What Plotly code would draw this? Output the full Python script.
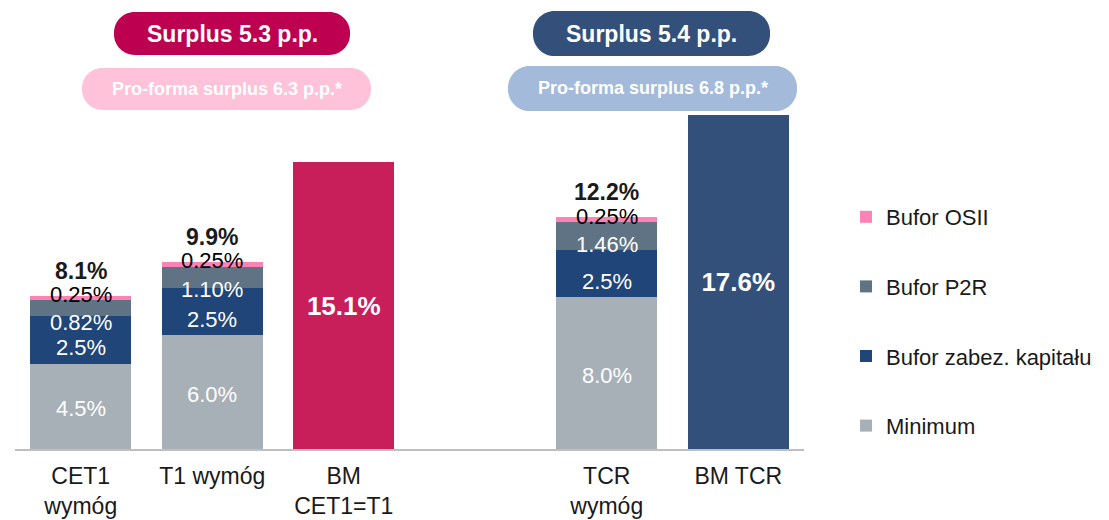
import numpy as np
import plotly.graph_objects as go

# categories on the x axis (" " is the empty gap slot)
categories = ["CET1<br>wymóg", "T1 wymóg", "BM<br>CET1=T1", " ", "TCR<br>wymóg", "BM TCR"]

# requirement bars (stacked)
req_cats = ["CET1<br>wymóg", "T1 wymóg", "TCR<br>wymóg"]
minimum = [4.5, 6.0, 8.0]
capital_buffer = [2.5, 2.5, 2.5]
p2r = [0.82, 1.10, 1.46]
osii = [0.25, 0.25, 0.25]
req_totals = [8.1, 9.9, 12.2]

# bank levels
bm_cats = ["BM<br>CET1=T1", "BM TCR"]
bm_values = [15.1, 17.6]

# surplus boxes
surplus_text = ["Surplus 5.3 p.p.", "Surplus 5.4 p.p."]
proforma_text = ["Pro-forma surplus 6.3 p.p.*", "Pro-forma surplus 6.8 p.p.*"]

FONT = "Liberation Sans, Arial, sans-serif"
W, H = 1109, 520
OFF = 8  # page body margin offset
L, R, T, B = 15 - OFF, 305 + OFF, 110 - OFF, 71 + OFF
PW, PH = W - L - R, H - T - B
PX_PER_UNIT = 19.0
YMAX = PH / PX_PER_UNIT

c_min = "#A7AFB7"
c_cap = "#204579"
c_p2r = "#5F7384"
c_osii = "#FF82B5"
c_bm1 = "#C81F5A"
c_bm2 = "#33507B"

fig = go.Figure()
series = [("Minimum", minimum, c_min, 4), ("Bufor zabez. kapitału", capital_buffer, c_cap, 3),
          ("Bufor P2R", p2r, c_p2r, 2), ("Bufor OSII", osii, c_osii, 1)]
for name, vals, col, rank in series:
    fig.add_trace(go.Bar(x=req_cats, y=vals, name=name, marker_color=col,
                         marker_line_width=0, legendgroup=name, legendrank=rank))
fig.add_trace(go.Bar(x=bm_cats, y=bm_values, marker_color=[c_bm1, c_bm2],
                     marker_line_width=0, showlegend=False,
                     text=[f"{v:.1f}%" for v in bm_values], textposition="inside",
                     insidetextanchor="middle",
                     textfont=dict(family=FONT, size=26, color="white", weight="bold")))

# segment labels
c1 = np.array(minimum)
c2 = c1 + np.array(capital_buffer)
c3 = c2 + np.array(p2r)
c4 = c3 + np.array(osii)
ann = []
lab = dict(family=FONT, size=22, color="white")
for i, cat in enumerate(req_cats):
    ann.append(dict(x=cat, y=c1[i] / 2, text=f"{minimum[i]:.1f}%", yshift=-2, font=lab))
    ann.append(dict(x=cat, y=c2[i], text=f"{capital_buffer[i]:.1f}%", yanchor="top", yshift=-17, font=lab))
    ann.append(dict(x=cat, y=c3[i], text=f"{p2r[i]:.2f}%", yanchor="top", yshift=-8, font=lab))
    ann.append(dict(x=cat, y=c4[i], text=f"{osii[i]:.2f}%", yshift=1,
                    font=dict(family=FONT, size=22, color="black")))
    ann.append(dict(x=cat, y=c4[i], text=f"{req_totals[i]:.1f}%", yshift=25,
                    font=dict(family=FONT, size=23, color="#1a1a1a", weight="bold")))
for a in ann:
    a.update(xref="x", yref="y", showarrow=False)


def px2paper(px, py):
    # screen pixels -> paper coordinates
    return (px - OFF - L) / PW, (H - B - (py - OFF)) / PH


def pill(x0, y0, x1, y1, color):
    r = (y1 - y0) * 0.48
    k = 0.5523 * r

    def P(x, y):
        a, b = px2paper(x, y)
        return f"{a:.5f},{b:.5f}"
    path = "M" + P(x0 + r, y0)
    path += " L" + P(x1 - r, y0)
    path += " C" + P(x1 - r + k, y0) + " " + P(x1, y0 + r - k) + " " + P(x1, y0 + r)
    path += " L" + P(x1, y1 - r)
    path += " C" + P(x1, y1 - r + k) + " " + P(x1 - r + k, y1) + " " + P(x1 - r, y1)
    path += " L" + P(x0 + r, y1)
    path += " C" + P(x0 + r - k, y1) + " " + P(x0, y1 - r + k) + " " + P(x0, y1 - r)
    path += " L" + P(x0, y0 + r)
    path += " C" + P(x0, y0 + r - k) + " " + P(x0 + r - k, y0) + " " + P(x0 + r, y0) + " Z"
    return dict(type="path", xref="paper", yref="paper", path=path,
                fillcolor=color, line_width=0, layer="above")


shapes = []
boxes = [((114, 12, 350, 55), (82, 68, 371, 110), "#BE0050", "#FFC2D9"),
         ((533, 11, 770, 56), (508, 66, 797, 111), "#33507B", "#A3BADA")]
for j, (b1, b2, col1, col2) in enumerate(boxes):
    shapes.append(pill(*b1, col1))
    shapes.append(pill(*b2, col2))
    cx, cy = px2paper((b1[0] + b1[2]) / 2, (b1[1] + b1[3]) / 2)
    ann.append(dict(x=cx, y=cy, xref="paper", yref="paper", showarrow=False,
                    xanchor="center", yanchor="middle", text=surplus_text[j],
                    font=dict(family=FONT, size=23, color="white", weight="bold")))
    cx, cy = px2paper((b2[0] + b2[2]) / 2, (b2[1] + b2[3]) / 2)
    ann.append(dict(x=cx, y=cy, xref="paper", yref="paper", showarrow=False,
                    xanchor="center", yanchor="middle", text=proforma_text[j],
                    font=dict(family=FONT, size=18, color="white", weight="bold")))

lx, ly = px2paper(846, 196)
fig.update_layout(
    width=W, height=H,
    margin=dict(l=L, r=R, t=T, b=B),
    barmode="stack", bargap=0.23,
    plot_bgcolor="white", paper_bgcolor="white",
    font=dict(family=FONT, size=22, color="#1a1a1a"),
    showlegend=True,
    legend=dict(x=lx, y=ly, xanchor="left", yanchor="top",
                traceorder="grouped", tracegroupgap=38,
                font=dict(family=FONT, size=22, color="#1a1a1a"), itemwidth=30),
    annotations=ann, shapes=shapes,
    xaxis=dict(type="category", categoryorder="array", categoryarray=categories,
               range=[-0.5, 5.5], showline=True, linecolor="#BFBFBF", linewidth=1.5,
               ticks="", ticklabelstandoff=6, automargin=False,
               tickfont=dict(family=FONT, size=23, color="#1a1a1a")),
    yaxis=dict(range=[0, YMAX], visible=False, showgrid=False),
)

fig.write_html("out.html")
